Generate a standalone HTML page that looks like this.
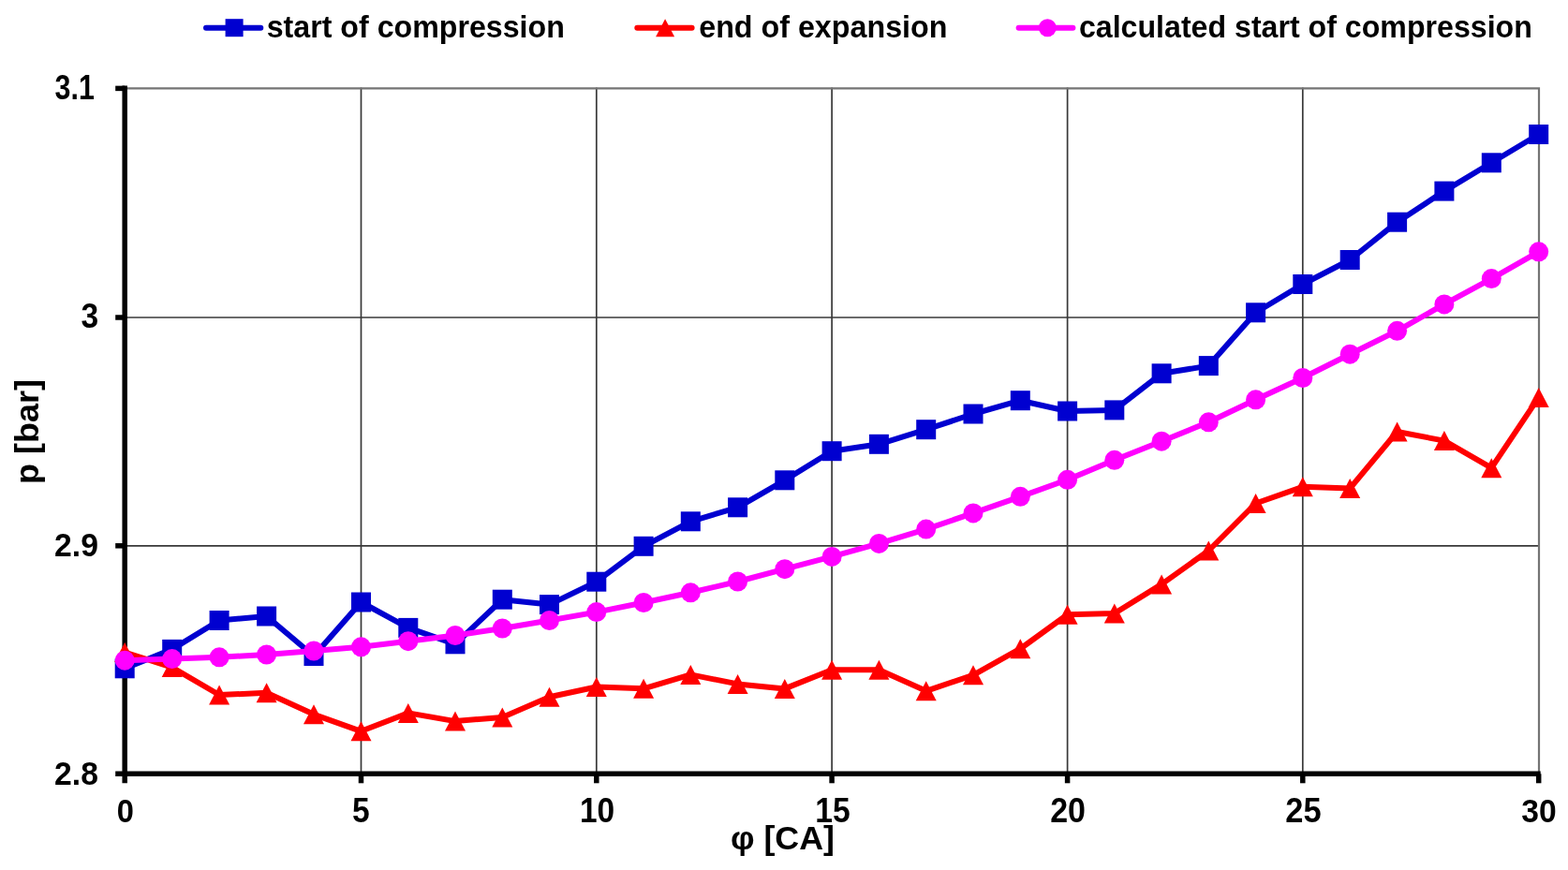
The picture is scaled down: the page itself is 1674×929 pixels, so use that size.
<!DOCTYPE html>
<html><head><meta charset="utf-8"><title>chart</title>
<style>html,body{margin:0;padding:0;background:#fff;overflow:hidden;}svg{display:block;}</style>
</head><body>
<svg width="1674" height="929" viewBox="0 0 1674 929">
<rect width="1674" height="929" fill="#ffffff"/>
<line x1="133.2" y1="339.0" x2="1642.7" y2="339.0" stroke="#383838" stroke-width="1.7"/>
<line x1="133.2" y1="582.8" x2="1642.7" y2="582.8" stroke="#383838" stroke-width="1.7"/>
<line x1="385.5" y1="93.4" x2="385.5" y2="826.3" stroke="#383838" stroke-width="1.7"/>
<line x1="636.8" y1="93.4" x2="636.8" y2="826.3" stroke="#383838" stroke-width="1.7"/>
<line x1="888.1" y1="93.4" x2="888.1" y2="826.3" stroke="#383838" stroke-width="1.7"/>
<line x1="1139.6" y1="93.4" x2="1139.6" y2="826.3" stroke="#383838" stroke-width="1.7"/>
<line x1="1390.8" y1="93.4" x2="1390.8" y2="826.3" stroke="#383838" stroke-width="1.7"/>
<path d="M133.2,94.4 H1643.0 V826.3" fill="none" stroke="#747474" stroke-width="2.2" stroke-linejoin="miter"/>
<line x1="133.2" y1="91.4" x2="133.2" y2="836.3" stroke="#000" stroke-width="5.5"/>
<line x1="123.2" y1="826.3" x2="1644.7" y2="826.3" stroke="#000" stroke-width="5.5"/>
<line x1="123.2" y1="94.4" x2="133.2" y2="94.4" stroke="#000" stroke-width="5.5"/>
<line x1="123.2" y1="339.0" x2="133.2" y2="339.0" stroke="#000" stroke-width="5.5"/>
<line x1="123.2" y1="582.8" x2="133.2" y2="582.8" stroke="#000" stroke-width="5.5"/>
<line x1="385.5" y1="826.3" x2="385.5" y2="836.3" stroke="#000" stroke-width="5.5"/>
<line x1="636.8" y1="826.3" x2="636.8" y2="836.3" stroke="#000" stroke-width="5.5"/>
<line x1="888.1" y1="826.3" x2="888.1" y2="836.3" stroke="#000" stroke-width="5.5"/>
<line x1="1139.6" y1="826.3" x2="1139.6" y2="836.3" stroke="#000" stroke-width="5.5"/>
<line x1="1390.8" y1="826.3" x2="1390.8" y2="836.3" stroke="#000" stroke-width="5.5"/>
<line x1="1642.7" y1="826.3" x2="1642.7" y2="836.3" stroke="#000" stroke-width="5.5"/>
<polyline points="133.2,713.8 183.7,693.4 234.1,662.5 284.6,658.0 335.0,700.5 385.5,643.0 435.8,670.4 486.0,687.8 536.3,640.2 586.5,645.6 636.8,621.2 687.1,583.3 737.3,556.8 787.6,541.8 837.8,512.8 888.1,481.7 938.4,474.3 988.7,458.7 1039.0,442.0 1089.3,427.7 1139.6,439.0 1189.8,437.9 1240.1,398.8 1290.3,390.6 1340.6,333.8 1390.8,303.5 1441.2,277.5 1491.6,237.2 1541.9,204.1 1592.3,173.8 1642.7,143.5" fill="none" stroke="#0000d0" stroke-width="6" stroke-linejoin="round"/>
<rect x="122.7" y="703.3" width="21" height="21" fill="#0000d0"/>
<rect x="173.2" y="682.9" width="21" height="21" fill="#0000d0"/>
<rect x="223.6" y="652.0" width="21" height="21" fill="#0000d0"/>
<rect x="274.1" y="647.5" width="21" height="21" fill="#0000d0"/>
<rect x="324.5" y="690.0" width="21" height="21" fill="#0000d0"/>
<rect x="375.0" y="632.5" width="21" height="21" fill="#0000d0"/>
<rect x="425.3" y="659.9" width="21" height="21" fill="#0000d0"/>
<rect x="475.5" y="677.3" width="21" height="21" fill="#0000d0"/>
<rect x="525.8" y="629.7" width="21" height="21" fill="#0000d0"/>
<rect x="576.0" y="635.1" width="21" height="21" fill="#0000d0"/>
<rect x="626.3" y="610.7" width="21" height="21" fill="#0000d0"/>
<rect x="676.6" y="572.8" width="21" height="21" fill="#0000d0"/>
<rect x="726.8" y="546.3" width="21" height="21" fill="#0000d0"/>
<rect x="777.1" y="531.3" width="21" height="21" fill="#0000d0"/>
<rect x="827.3" y="502.3" width="21" height="21" fill="#0000d0"/>
<rect x="877.6" y="471.2" width="21" height="21" fill="#0000d0"/>
<rect x="927.9" y="463.8" width="21" height="21" fill="#0000d0"/>
<rect x="978.2" y="448.2" width="21" height="21" fill="#0000d0"/>
<rect x="1028.5" y="431.5" width="21" height="21" fill="#0000d0"/>
<rect x="1078.8" y="417.2" width="21" height="21" fill="#0000d0"/>
<rect x="1129.1" y="428.5" width="21" height="21" fill="#0000d0"/>
<rect x="1179.3" y="427.4" width="21" height="21" fill="#0000d0"/>
<rect x="1229.6" y="388.3" width="21" height="21" fill="#0000d0"/>
<rect x="1279.8" y="380.1" width="21" height="21" fill="#0000d0"/>
<rect x="1330.1" y="323.3" width="21" height="21" fill="#0000d0"/>
<rect x="1380.3" y="293.0" width="21" height="21" fill="#0000d0"/>
<rect x="1430.7" y="267.0" width="21" height="21" fill="#0000d0"/>
<rect x="1481.1" y="226.7" width="21" height="21" fill="#0000d0"/>
<rect x="1531.4" y="193.6" width="21" height="21" fill="#0000d0"/>
<rect x="1581.8" y="163.3" width="21" height="21" fill="#0000d0"/>
<rect x="1632.2" y="133.0" width="21" height="21" fill="#0000d0"/>
<polyline points="133.2,696.5 183.7,712.6 234.1,742.0 284.6,739.8 335.0,762.8 385.5,780.8 435.8,761.4 486.0,770.1 536.3,765.9 586.5,744.2 636.8,733.5 687.1,735.3 737.3,720.4 787.6,730.4 837.8,735.4 888.1,715.3 938.4,715.2 988.7,737.8 1039.0,720.8 1089.3,692.7 1139.6,656.2 1189.8,655.0 1240.1,623.9 1290.3,588.0 1340.6,537.5 1390.8,519.8 1441.2,521.5 1491.6,461.0 1541.9,470.6 1592.3,499.7 1642.7,424.4" fill="none" stroke="#ff0000" stroke-width="6" stroke-linejoin="round"/>
<polygon points="133.2,686.0 144.2,707.0 122.2,707.0" fill="#ff0000"/>
<polygon points="183.7,702.1 194.7,723.1 172.7,723.1" fill="#ff0000"/>
<polygon points="234.1,731.5 245.1,752.5 223.1,752.5" fill="#ff0000"/>
<polygon points="284.6,729.3 295.6,750.3 273.6,750.3" fill="#ff0000"/>
<polygon points="335.0,752.3 346.0,773.3 324.0,773.3" fill="#ff0000"/>
<polygon points="385.5,770.3 396.5,791.3 374.5,791.3" fill="#ff0000"/>
<polygon points="435.8,750.9 446.8,771.9 424.8,771.9" fill="#ff0000"/>
<polygon points="486.0,759.6 497.0,780.6 475.0,780.6" fill="#ff0000"/>
<polygon points="536.3,755.4 547.3,776.4 525.3,776.4" fill="#ff0000"/>
<polygon points="586.5,733.7 597.5,754.7 575.5,754.7" fill="#ff0000"/>
<polygon points="636.8,723.0 647.8,744.0 625.8,744.0" fill="#ff0000"/>
<polygon points="687.1,724.8 698.1,745.8 676.1,745.8" fill="#ff0000"/>
<polygon points="737.3,709.9 748.3,730.9 726.3,730.9" fill="#ff0000"/>
<polygon points="787.6,719.9 798.6,740.9 776.6,740.9" fill="#ff0000"/>
<polygon points="837.8,724.9 848.8,745.9 826.8,745.9" fill="#ff0000"/>
<polygon points="888.1,704.8 899.1,725.8 877.1,725.8" fill="#ff0000"/>
<polygon points="938.4,704.7 949.4,725.7 927.4,725.7" fill="#ff0000"/>
<polygon points="988.7,727.3 999.7,748.3 977.7,748.3" fill="#ff0000"/>
<polygon points="1039.0,710.3 1050.0,731.3 1028.0,731.3" fill="#ff0000"/>
<polygon points="1089.3,682.2 1100.3,703.2 1078.3,703.2" fill="#ff0000"/>
<polygon points="1139.6,645.7 1150.6,666.7 1128.6,666.7" fill="#ff0000"/>
<polygon points="1189.8,644.5 1200.8,665.5 1178.8,665.5" fill="#ff0000"/>
<polygon points="1240.1,613.4 1251.1,634.4 1229.1,634.4" fill="#ff0000"/>
<polygon points="1290.3,577.5 1301.3,598.5 1279.3,598.5" fill="#ff0000"/>
<polygon points="1340.6,527.0 1351.6,548.0 1329.6,548.0" fill="#ff0000"/>
<polygon points="1390.8,509.3 1401.8,530.3 1379.8,530.3" fill="#ff0000"/>
<polygon points="1441.2,511.0 1452.2,532.0 1430.2,532.0" fill="#ff0000"/>
<polygon points="1491.6,450.5 1502.6,471.5 1480.6,471.5" fill="#ff0000"/>
<polygon points="1541.9,460.1 1552.9,481.1 1530.9,481.1" fill="#ff0000"/>
<polygon points="1592.3,489.2 1603.3,510.2 1581.3,510.2" fill="#ff0000"/>
<polygon points="1642.7,413.9 1653.7,434.9 1631.7,434.9" fill="#ff0000"/>
<polyline points="133.2,705.2 183.7,703.6 234.1,701.8 284.6,699.0 335.0,695.0 385.5,690.8 435.8,684.7 486.0,678.5 536.3,671.0 586.5,662.5 636.8,653.6 687.1,643.5 737.3,632.8 787.6,621.0 837.8,607.7 888.1,594.4 938.4,580.4 988.7,565.1 1039.0,547.9 1089.3,530.3 1139.6,512.3 1189.8,491.3 1240.1,471.2 1290.3,450.8 1340.6,426.8 1390.8,403.5 1441.2,378.2 1491.6,353.3 1541.9,324.9 1592.3,297.6 1642.7,268.8" fill="none" stroke="#ff00ff" stroke-width="6" stroke-linejoin="round"/>
<circle cx="133.2" cy="705.2" r="10.5" fill="#ff00ff"/>
<circle cx="183.7" cy="703.6" r="10.5" fill="#ff00ff"/>
<circle cx="234.1" cy="701.8" r="10.5" fill="#ff00ff"/>
<circle cx="284.6" cy="699.0" r="10.5" fill="#ff00ff"/>
<circle cx="335.0" cy="695.0" r="10.5" fill="#ff00ff"/>
<circle cx="385.5" cy="690.8" r="10.5" fill="#ff00ff"/>
<circle cx="435.8" cy="684.7" r="10.5" fill="#ff00ff"/>
<circle cx="486.0" cy="678.5" r="10.5" fill="#ff00ff"/>
<circle cx="536.3" cy="671.0" r="10.5" fill="#ff00ff"/>
<circle cx="586.5" cy="662.5" r="10.5" fill="#ff00ff"/>
<circle cx="636.8" cy="653.6" r="10.5" fill="#ff00ff"/>
<circle cx="687.1" cy="643.5" r="10.5" fill="#ff00ff"/>
<circle cx="737.3" cy="632.8" r="10.5" fill="#ff00ff"/>
<circle cx="787.6" cy="621.0" r="10.5" fill="#ff00ff"/>
<circle cx="837.8" cy="607.7" r="10.5" fill="#ff00ff"/>
<circle cx="888.1" cy="594.4" r="10.5" fill="#ff00ff"/>
<circle cx="938.4" cy="580.4" r="10.5" fill="#ff00ff"/>
<circle cx="988.7" cy="565.1" r="10.5" fill="#ff00ff"/>
<circle cx="1039.0" cy="547.9" r="10.5" fill="#ff00ff"/>
<circle cx="1089.3" cy="530.3" r="10.5" fill="#ff00ff"/>
<circle cx="1139.6" cy="512.3" r="10.5" fill="#ff00ff"/>
<circle cx="1189.8" cy="491.3" r="10.5" fill="#ff00ff"/>
<circle cx="1240.1" cy="471.2" r="10.5" fill="#ff00ff"/>
<circle cx="1290.3" cy="450.8" r="10.5" fill="#ff00ff"/>
<circle cx="1340.6" cy="426.8" r="10.5" fill="#ff00ff"/>
<circle cx="1390.8" cy="403.5" r="10.5" fill="#ff00ff"/>
<circle cx="1441.2" cy="378.2" r="10.5" fill="#ff00ff"/>
<circle cx="1491.6" cy="353.3" r="10.5" fill="#ff00ff"/>
<circle cx="1541.9" cy="324.9" r="10.5" fill="#ff00ff"/>
<circle cx="1592.3" cy="297.6" r="10.5" fill="#ff00ff"/>
<circle cx="1642.7" cy="268.8" r="10.5" fill="#ff00ff"/>
<text transform="translate(284.73,39.50) scale(0.9749,1)" font-size="33" font-family="'Liberation Sans', Arial, sans-serif" font-weight="bold">start of compression</text>
<text transform="translate(746.22,39.50) scale(0.9776,1)" font-size="33" font-family="'Liberation Sans', Arial, sans-serif" font-weight="bold">end of expansion</text>
<text transform="translate(1151.93,39.50) scale(0.9741,1)" font-size="33" font-family="'Liberation Sans', Arial, sans-serif" font-weight="bold">calculated start of compression</text>
<text transform="translate(58.55,105.90) scale(0.8458,1)" font-size="36" font-family="'Liberation Sans', Arial, sans-serif" font-weight="bold">3.1</text>
<text transform="translate(86.57,349.70) scale(0.9333,1)" font-size="36" font-family="'Liberation Sans', Arial, sans-serif" font-weight="bold">3</text>
<text transform="translate(58.06,594.10) scale(0.9375,1)" font-size="36" font-family="'Liberation Sans', Arial, sans-serif" font-weight="bold">2.9</text>
<text transform="translate(58.06,838.10) scale(0.9375,1)" font-size="36" font-family="'Liberation Sans', Arial, sans-serif" font-weight="bold">2.8</text>
<text transform="translate(124.79,878.00) scale(0.9056,1)" font-size="36" font-family="'Liberation Sans', Arial, sans-serif" font-weight="bold">0</text>
<text transform="translate(376.07,878.00) scale(0.9333,1)" font-size="36" font-family="'Liberation Sans', Arial, sans-serif" font-weight="bold">5</text>
<text transform="translate(618.94,878.00) scale(0.9297,1)" font-size="36" font-family="'Liberation Sans', Arial, sans-serif" font-weight="bold">10</text>
<text transform="translate(870.23,878.00) scale(0.9351,1)" font-size="36" font-family="'Liberation Sans', Arial, sans-serif" font-weight="bold">15</text>
<text transform="translate(1121.16,878.00) scale(0.9447,1)" font-size="36" font-family="'Liberation Sans', Arial, sans-serif" font-weight="bold">20</text>
<text transform="translate(1372.34,878.00) scale(0.9579,1)" font-size="36" font-family="'Liberation Sans', Arial, sans-serif" font-weight="bold">25</text>
<text transform="translate(1624.37,878.00) scale(0.9342,1)" font-size="36" font-family="'Liberation Sans', Arial, sans-serif" font-weight="bold">30</text>
<text transform="translate(779.89,906.80) scale(1.0084,1)" font-size="35.5" font-family="'Liberation Sans', Arial, sans-serif" font-weight="bold">φ [CA]</text>
<text transform="translate(40.70,517.06) rotate(-90) scale(1.0286,1)" font-size="35" font-family="'Liberation Sans', Arial, sans-serif" font-weight="bold">p [bar]</text>
<line x1="220.0" y1="29.75" x2="278.3" y2="29.75" stroke="#0000d0" stroke-width="6" stroke-linecap="round"/>
<rect x="240.6" y="20.2" width="19" height="19" fill="#0000d0"/>
<line x1="680.3" y1="29.75" x2="738.6" y2="29.75" stroke="#ff0000" stroke-width="6" stroke-linecap="round"/>
<polygon points="710.1,20.2 720.1,39.2 700.1,39.2" fill="#ff0000"/>
<line x1="1087.6" y1="29.75" x2="1145.4" y2="29.75" stroke="#ff00ff" stroke-width="6" stroke-linecap="round"/>
<circle cx="1118.3" cy="29.8" r="9.5" fill="#ff00ff"/>
</svg>
</body></html>
